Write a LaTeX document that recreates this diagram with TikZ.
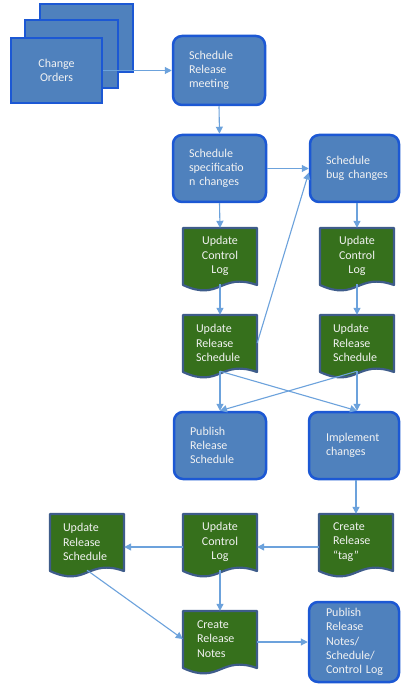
\documentclass[tikz,border=0pt]{standalone}
\usepackage{fontspec}
\setmainfont{Carlito}
\usetikzlibrary{arrows.meta}
\definecolor{bfill}{RGB}{79,129,189}
\definecolor{bline}{RGB}{28,88,212}
\definecolor{gfill}{RGB}{54,112,28}
\definecolor{gline}{RGB}{62,92,138}
\definecolor{arr}{RGB}{108,162,220}
\definecolor{txt}{RGB}{242,242,242}
\newcommand\mkdoc[5]{%
  \path[draw=gline, fill=gfill, line width=2.2pt, line join=round]
    (#2,#3) -- (#2+74,#3) -- (#2+74,#3+57)
    .. controls (#2+37,#3+44) and (#2+37,#3+74) .. (#2,#3+57) -- cycle;
  \node[doctext,#4] (#1) at (#2+37,#3+28) {#5};
}
\begin{document}
\begin{tikzpicture}[x=1pt,y=-1pt,
  tfont/.style={font=\fontsize{12}{14.2}\selectfont, text=txt},
  bbox/.style={tfont, draw=bline, fill=bfill, line width=2.5pt, rounded corners=9pt,
    align=left, inner sep=0pt},
  cobox/.style={draw=bline, fill=bfill, line width=2.5pt},
  doctext/.style={tfont, inner sep=0pt, minimum width=74pt, minimum height=56pt},
  dl/.style={align=left, text width=48pt},
  dc/.style={align=center, text width=48pt},
  dt/.style={align=left, text width=46pt},
  conn/.style={draw=arr, line width=1.1pt, -{Triangle[length=7pt,width=7pt]}}
]
\fill[white] (0,0) rectangle (403,684);
\useasboundingbox (0,0) rectangle (403,684);

% Change orders stack
\draw[cobox] (40,4) rectangle (133,72);
\draw[cobox] (25,20) rectangle (118,88);
\node[cobox, tfont, align=center, minimum width=91pt, minimum height=65pt, inner sep=0pt] (co) at (56.5,70.5) {Change\\Orders};

% blue boxes
\node[bbox, minimum width=92pt, minimum height=69pt, text width=60pt] (srm) at (219,70.5) {Schedule\\Release\\meeting};
\node[bbox, minimum width=93pt, minimum height=67pt, text width=61pt] (ssc) at (219.5,168.5) {Schedule\\specificatio\\n changes};
\node[bbox, minimum width=89pt, minimum height=67pt, text width=57pt] (sbc) at (354.5,168.5) {Schedule\\bug~changes};
\node[bbox, minimum width=92pt, minimum height=67pt, text width=60pt] (prs) at (220,445.5) {Publish\\Release\\Schedule};
\node[bbox, minimum width=90pt, minimum height=67pt, text width=56pt] (imp) at (354,445.5) {Implement\\changes};
\node[bbox, minimum width=90pt, minimum height=80pt, text width=56pt] (prn) at (354,642) {Publish\\Release\\Notes/\\Schedule/\\Control~Log};

% documents
\mkdoc{uclL}{183}{228}{dc}{Update\\Control\\Log}
\mkdoc{uclR}{320}{228}{dc}{Update\\Control\\Log}
\mkdoc{ursL}{183}{315}{dl}{Update\\Release\\Schedule}
\mkdoc{ursR}{320}{315}{dl}{Update\\Release\\Schedule}
\mkdoc{ursB}{50}{514}{dl}{Update\\Release\\Schedule}
\mkdoc{uclB}{183}{514}{dc}{Update\\Control\\Log}
\mkdoc{crt}{319}{514}{dt}{Create\\Release\\“tag”}
\mkdoc{crn}{183}{611}{dt}{Create\\Release\\Notes}

% connectors
\draw[conn] (co.east) -- (srm.west);
\draw[conn] (srm.south) -- (ssc.north);
\draw[conn] (ssc.east) -- (sbc.west);
\draw[conn] (ursL.east) -- ([yshift=-4pt]sbc.west);
\draw[conn] (ssc.south) -- (uclL.north);
\draw[conn] (uclR.north |- sbc.south) -- (uclR.north);
\draw[conn] (uclL.south) -- (ursL.north);
\draw[conn] (uclR.south) -- (ursR.north);
\draw[conn] (ursL.south) -- (ursL.south |- prs.north);
\draw[conn] (ursL.south) -- (ursR.south |- imp.north);
\draw[conn] (ursR.south) -- (ursL.south |- prs.north);
\draw[conn] (ursR.south) -- (ursR.south |- imp.north);
\draw[conn] (crt.north |- imp.south) -- (crt.north);
\draw[conn] ([yshift=-5pt]crt.west) -- ([yshift=-5pt]uclB.east);
\draw[conn] ([yshift=-5pt]uclB.west) -- ([yshift=-5pt]ursB.east);
\draw[conn] (uclB.south) -- (crn.north);
\draw[conn] (ursB.south) -- (crn.west);
\draw[conn] (crn.east |- prn.west) -- (prn.west);
\end{tikzpicture}
\end{document}
